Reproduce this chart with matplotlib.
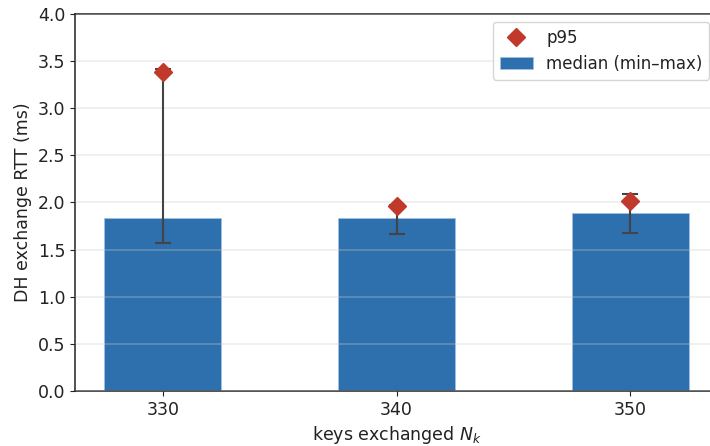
import matplotlib.pyplot as plt
import numpy as np

keys = [330, 340, 350]
median = [1.835, 1.835, 1.889]
lo = [1.57, 1.666, 1.673]
hi = [3.42, 1.975, 2.093]
p95 = [3.385, 1.963, 2.016]

plt.rcParams.update({
    "font.size": 12.5,
    "text.color": "#222222",
    "axes.labelcolor": "#222222",
    "xtick.color": "#222222",
    "ytick.color": "#222222",
    "axes.edgecolor": "#222222",
    "axes.linewidth": 1.1,
})

fig, ax = plt.subplots(figsize=(7.1, 4.46), dpi=100)
# the right spine sits just past the image edge
fig.subplots_adjust(left=0.106, right=1.011, bottom=0.123, top=0.969)

x = np.array(keys)
med = np.array(median)
yerr = [med - np.array(lo), np.array(hi) - med]

ax.bar(x, med, width=5, color="#2e6fae", edgecolor="#9fc0e0", linewidth=0.6,
       label="median (min\u2013max)", zorder=2)
ax.errorbar(x, med, yerr=yerr, fmt="none", ecolor="#444444", elinewidth=1.5,
            capsize=6, capthick=1.5, zorder=3)
ax.plot(x, p95, linestyle="none", marker="D", markersize=9, color="#c0392b",
        label="p95", zorder=4)

ax.yaxis.grid(True, color="#cccccc", alpha=0.35, linewidth=1.2, zorder=2.5)
ax.set_axisbelow(False)
ax.set_ylim(0, 4.0)
ax.set_xticks(keys)
ax.set_xlabel("keys exchanged $N_k$")
ax.set_ylabel("DH exchange RTT (ms)")

ax.legend(loc="upper right", fontsize=12)

plt.savefig("out.png")
